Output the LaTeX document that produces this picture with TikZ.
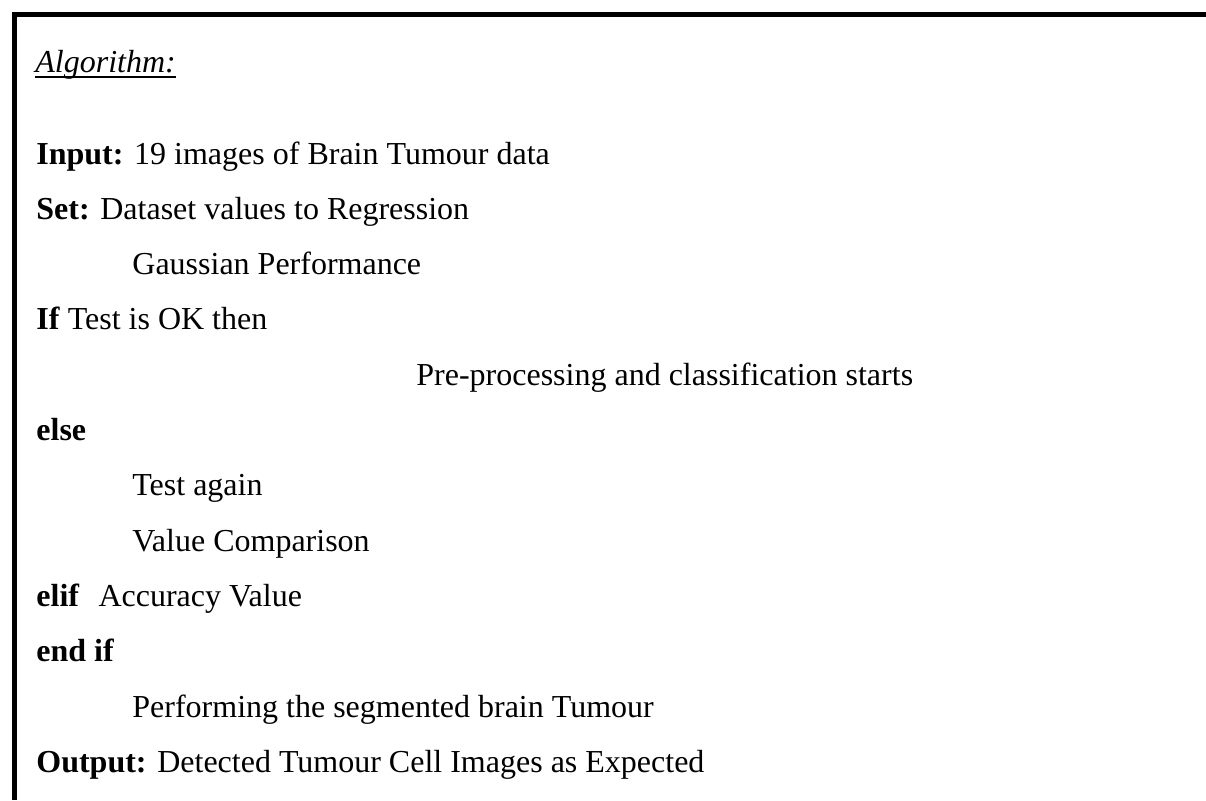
\documentclass[tikz,border=0pt]{standalone}
\usepackage{fontspec}
\setmainfont{Liberation Serif}
\usepackage{tikz}

\tikzset{algline/.style={anchor=base west, inner sep=0pt, font=\fontsize{16}{19}\selectfont}}

\begin{document}
\begin{tikzpicture}[x=0.5pt, y=-0.5pt, line join=miter]

\useasboundingbox (0,0) rectangle (1206,800);

% frame: only top and left edges
\draw[line width=2.75pt] (14.5,800) -- (14.5,14.5) -- (1206,14.5);

\node[algline] (title) at (35,72) {\textit{Algorithm:}};
\draw[line width=1pt] ([yshift=-2.3pt]title.base west) -- ([yshift=-2.3pt]title.base east);

\node[algline] (input) at (36,164) {\textbf{Input:} 19 images of Brain Tumour data};
\node[algline] (set) at (36,219.3) {\textbf{Set:} Dataset values to Regression};
\node[algline] (gauss) at (132,274.6) {Gaussian Performance};
\node[algline] (iftest) at (36,329.9) {\textbf{If} Test is OK then};
\node[algline] (prep) at (416,385.2) {Pre-processing and classification starts};
\node[algline] (else) at (36,440.5) {\textbf{else}};
\node[algline] (again) at (132,495.8) {Test again};
\node[algline] (compare) at (132,551.1) {Value Comparison};
\node[algline] (elif) at (36,606.4) {\textbf{elif}\hspace{0.6em}Accuracy Value};
\node[algline] (endif) at (36,661.7) {\textbf{end if}};
\node[algline] (segment) at (132,717) {Performing the segmented brain Tumour};
\node[algline] (output) at (36,772.3) {\textbf{Output:} Detected Tumour Cell Images as Expected};

\end{tikzpicture}
\end{document}
